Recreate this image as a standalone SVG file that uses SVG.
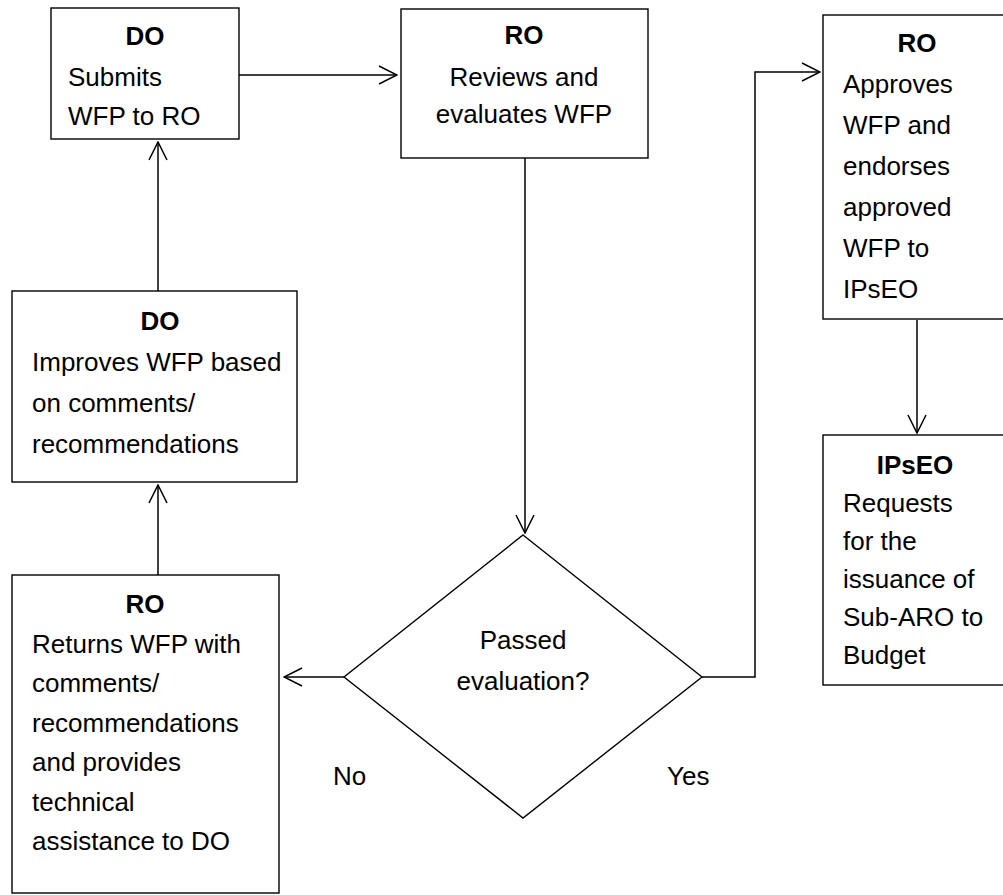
<svg xmlns="http://www.w3.org/2000/svg" width="1003" height="895" viewBox="0 0 1003 895">
<style>
.box{fill:#fff;stroke:#000;stroke-width:1.4}
.t{font-family:"Liberation Sans",Arial,sans-serif;font-size:26px;fill:#000}
.h{font-weight:bold;text-anchor:middle}
.c{text-anchor:middle}
.ln{fill:none;stroke:#000;stroke-width:1.5}
</style>
<defs>
<marker id="arr" viewBox="0 0 20 20" refX="19" refY="10" markerWidth="20" markerHeight="20" markerUnits="userSpaceOnUse" orient="auto">
<path d="M1,1 L19,10 L1,19" fill="none" stroke="#000" stroke-width="1.5"/>
</marker>
</defs>
<rect width="1003" height="895" fill="#fff"/>
<g id="connectors">
<path class="ln" d="M239,75 H397" marker-end="url(#arr)"/>
<path class="ln" d="M525,158 V533" marker-end="url(#arr)"/>
<path class="ln" d="M344,677 H284" marker-end="url(#arr)"/>
<path class="ln" d="M702,677 H755 V72 H820" marker-end="url(#arr)"/>
<path class="ln" d="M917,320 V433" marker-end="url(#arr)"/>
<path class="ln" d="M158,575 V485" marker-end="url(#arr)"/>
<path class="ln" d="M158,291 V142" marker-end="url(#arr)"/>
</g>
<g id="n1">
<rect class="box" x="51" y="8" width="188" height="131"/>
<text class="t h" x="145" y="45">DO</text>
<text class="t" x="68" y="86">Submits</text>
<text class="t" x="68" y="125">WFP to RO</text>
</g>
<g id="n2">
<rect class="box" x="401" y="9" width="247" height="149"/>
<text class="t h" x="524" y="44">RO</text>
<text class="t c" x="524" y="86">Reviews and</text>
<text class="t c" x="524" y="123">evaluates WFP</text>
</g>
<g id="n3">
<rect class="box" x="823" y="15" width="190" height="304"/>
<text class="t h" x="917" y="52">RO</text>
<text class="t" x="843" y="93">Approves</text>
<text class="t" x="843" y="134">WFP and</text>
<text class="t" x="843" y="175">endorses</text>
<text class="t" x="843" y="216">approved</text>
<text class="t" x="843" y="257">WFP to</text>
<text class="t" x="843" y="298">IPsEO</text>
</g>
<g id="n4">
<rect class="box" x="823" y="435" width="190" height="250"/>
<text class="t h" x="915" y="474">IPsEO</text>
<text class="t" x="843" y="512">Requests</text>
<text class="t" x="843" y="550">for the</text>
<text class="t" x="843" y="588">issuance of</text>
<text class="t" x="843" y="626">Sub-ARO to</text>
<text class="t" x="843" y="664">Budget</text>
</g>
<g id="n5">
<rect class="box" x="12" y="291" width="285" height="191"/>
<text class="t h" x="160" y="330">DO</text>
<text class="t" x="32" y="371">Improves WFP based</text>
<text class="t" x="32" y="412">on comments/</text>
<text class="t" x="32" y="453">recommendations</text>
</g>
<g id="n6">
<rect class="box" x="12" y="575" width="267" height="318"/>
<text class="t h" x="145" y="613">RO</text>
<text class="t" x="32" y="653">Returns WFP with</text>
<text class="t" x="32" y="692">comments/</text>
<text class="t" x="32" y="732">recommendations</text>
<text class="t" x="32" y="771">and provides</text>
<text class="t" x="32" y="811">technical</text>
<text class="t" x="32" y="850">assistance to DO</text>
</g>
<g id="n7">
<polygon class="box" points="523,535 702,677 523,818 344,677"/>
<text class="t c" x="523" y="649">Passed</text>
<text class="t c" x="523" y="690">evaluation?</text>
</g>
<g id="labels">
<text class="t" x="333" y="785">No</text>
<text class="t" x="667" y="785">Yes</text>
</g>
</svg>
